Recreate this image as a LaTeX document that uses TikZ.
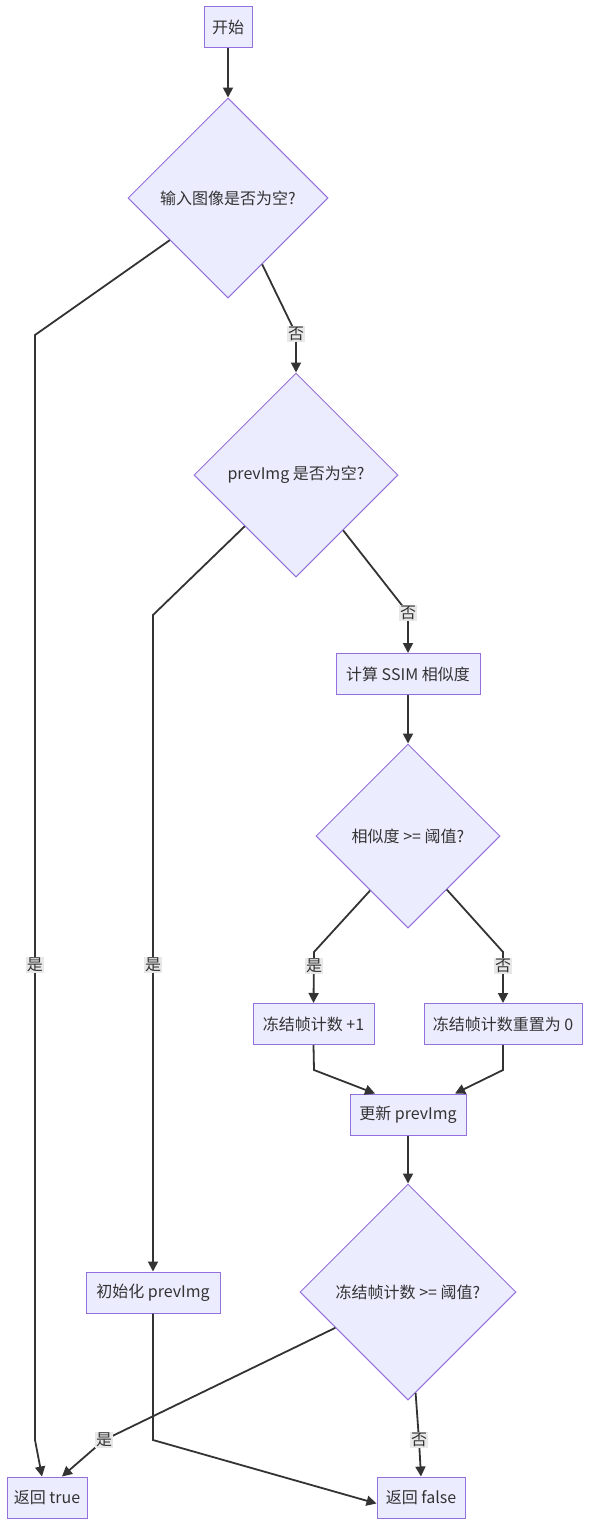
\documentclass[tikz,border=0pt]{standalone}
\usepackage{fontspec}
\setmainfont{Noto Sans CJK SC}
\usetikzlibrary{shapes.geometric,arrows.meta,calc}
\definecolor{nodefill}{HTML}{ECECFF}
\definecolor{nodeborder}{HTML}{9370DB}
\definecolor{edgecol}{HTML}{333333}
\definecolor{labelbg}{HTML}{E8E8E8}
\begin{document}
\begin{tikzpicture}[x=1pt,y=-1pt,
  txt/.style={font=\fontsize{16}{19}\selectfont,text=edgecol},
  box/.style={txt,draw=nodeborder,fill=nodefill,line width=1pt,minimum height=41pt,inner sep=0pt},
  dec/.style={txt,diamond,draw=nodeborder,fill=nodefill,line width=1pt,aspect=1,inner sep=0pt},
  flow/.style={draw=edgecol,line width=1.8pt,-{Triangle[length=10pt,width=10pt]}},
  lbl/.style={txt,fill=labelbg,inner sep=1.2pt}
]
\useasboundingbox (0,0) rectangle (590,1526);
% nodes
\node[box,minimum width=48pt] (start) at (228,27) {开始};
\node[dec,minimum width=200pt,minimum height=200pt] (d1) at (228,198) {输入图像是否为空?};
\node[dec,minimum width=204pt,minimum height=204pt] (d2) at (296,475) {prevImg 是否为空?};
\node[box,minimum width=144pt] (ssim) at (408,674) {计算 SSIM 相似度};
\node[dec,minimum width=184pt,minimum height=184pt] (d3) at (408,836) {相似度 >= 阈值?};
\node[box,minimum width=121pt] (inc) at (313.5,1024) {冻结帧计数 +1};
\node[box,minimum width=158pt] (reset) at (503,1024) {冻结帧计数重置为 0};
\node[box,minimum width=116pt] (upd) at (408,1114.5) {更新 prevImg};
\node[dec,minimum width=216pt,minimum height=216pt] (d4) at (408,1292) {冻结帧计数 >= 阈值?};
\node[box,minimum width=134pt] (init) at (153,1292.5) {初始化 prevImg};
\node[box,minimum width=80pt] (rtrue) at (47,1497.5) {返回 true};
\node[box,minimum width=88pt] (rfalse) at (421,1497.5) {返回 false};
% bend coordinates
\coordinate (b1) at (35,335);
\coordinate (b2) at (35,1440);
\coordinate (l1) at (296,334);
\coordinate (b3) at (153,615);
\coordinate (l2) at (408,613);
\coordinate (b4) at (314,952);
\coordinate (b5) at (503,952);
\coordinate (b6) at (314,1070);
\coordinate (b7) at (503,1070);
\coordinate (l3) at (104,1440);
\coordinate (l4) at (419,1440);
\coordinate (b8) at (153,1440);
% edges
\draw[flow] (start) -- (d1);
\draw[flow] ($(d1.west)!0.42!(d1.south)$) -- (b1) -- (b2) -- ([xshift=-5pt]rtrue.north);
\draw[flow] ($(d1.south)!0.34!(d1.east)$) -- (l1) -- (d2.north);
\draw[flow] (d2.south west) -- (b3) -- (init.north);
\draw[flow] ($(d2.south)!0.46!(d2.east)$) -- (l2) -- (ssim.north);
\draw[flow] (ssim) -- (d3);
\draw[flow] ($(d3.west)!0.59!(d3.south)$) -- (b4) -- (inc.north);
\draw[flow] ($(d3.south)!0.42!(d3.east)$) -- (b5) -- (reset.north);
\draw[flow] (inc.south) -- (b6) -- ([xshift=-33pt]upd.north);
\draw[flow] (reset.south) -- (b7) -- ([xshift=47pt]upd.north);
\draw[flow] (upd) -- (d4);
\draw[flow] ($(d4.west)!0.33!(d4.south)$) -- (l3) -- ([xshift=15pt]rtrue.north);
\draw[flow] ($(d4.south)!0.07!(d4.east)$) -- (l4) -- (rfalse.north);
\draw[flow] (init.south) -- (b8) -- ([yshift=-6pt]rfalse.west);
% labels
\node[lbl] at (35,965) {是};
\node[lbl] at (l1) {否};
\node[lbl] at (153,965) {是};
\node[lbl] at (l2) {否};
\node[lbl] at (314,966) {是};
\node[lbl] at (503,966) {否};
\node[lbl] at (l3) {是};
\node[lbl] at (l4) {否};
\end{tikzpicture}
\end{document}
